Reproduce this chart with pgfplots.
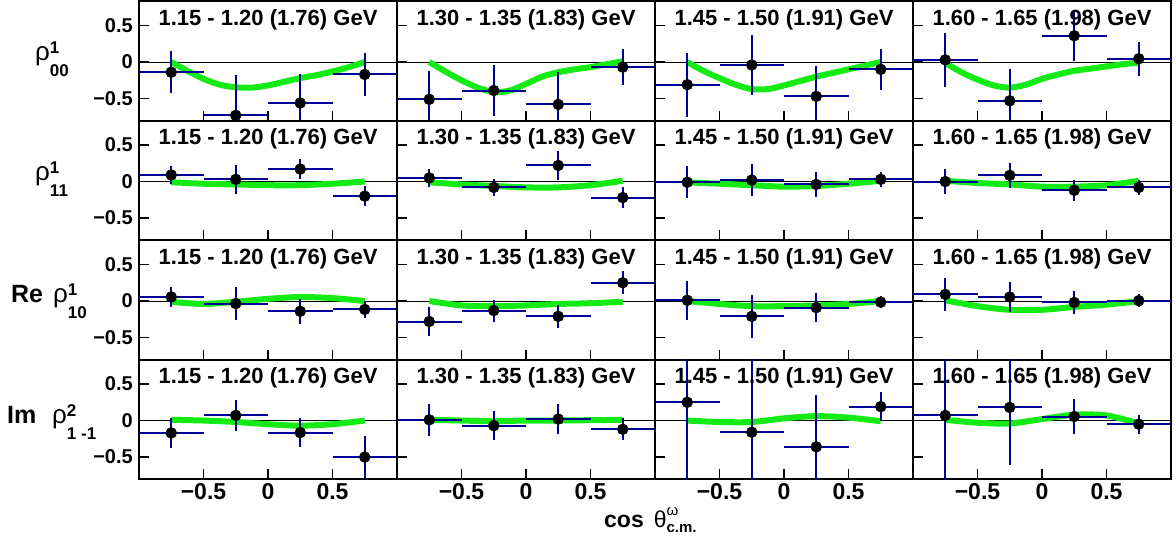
\documentclass[border=0pt]{standalone}
\usepackage{fontspec}
\setmainfont{Liberation Sans}
\usepackage{pgfplots}
\pgfplotsset{compat=1.18}
\definecolor{fitgreen}{RGB}{20,235,20}
\definecolor{errblue}{RGB}{0,0,150}
\newcommand{\titlefont}{\fontsize{22}{22}\selectfont\bfseries}
\newcommand{\rholab}[2]{{\fontsize{26}{26}\selectfont ρ}\makebox[0pt][l]{\raisebox{7pt}{\fontsize{17}{17}\selectfont\bfseries #1}}\raisebox{-16pt}{\fontsize{17}{17}\selectfont\bfseries #2}}
\pgfplotsset{
  panel/.style={
    scale only axis, width=258pt, height=119.5pt,
    anchor=north west,
    xmin=-1, xmax=1, ymin=-0.8, ymax=0.835,
    xtick={-0.5,0,0.5}, ytick={-0.5,0,0.5},
    xticklabels={}, yticklabels={},
    tick align=inside, tick pos=left, major tick length=10pt,
    tick style={black, line width=1.2pt},
    axis line style={black, line width=2pt},
    yticklabel style={font=\fontsize{20}{20}\selectfont\bfseries, inner sep=1pt, xshift=-5pt},
    xticklabel style={font=\fontsize{23}{23}\selectfont\bfseries, yshift=-1pt},
  },
  ylab/.style={yticklabels={−0.5,0,0.5}},
  xlab/.style={xticklabels={−0.5,0,0.5}},
  fit/.style={fitgreen, line width=6pt, smooth, forget plot},
  pts/.style={only marks, mark=*, mark size=5.5pt, mark options={black, fill=black},
    error bars/x dir=both, error bars/x explicit, error bars/y dir=both, error bars/y explicit,
    error bars/error mark=none,
    error bars/error bar style={errblue, line width=2pt}},
  zero/.style={black, line width=1pt, forget plot},
}
\begin{document}
\begin{tikzpicture}
\useasboundingbox (0pt,0pt) rectangle (1176pt,-536pt);

% ===================== Row 1: rho^1_00 =====================
\begin{axis}[panel, ylab, at={(139pt,-1pt)}]
\addplot[zero] coordinates {(-1,0) (1,0)};
\addplot[fit] coordinates {(-0.75,0.0) (-0.625,-0.12) (-0.5,-0.23) (-0.375,-0.31) (-0.25,-0.345) (-0.125,-0.35) (0,-0.32) (0.125,-0.27) (0.25,-0.22) (0.375,-0.18) (0.5,-0.13) (0.625,-0.07) (0.75,0.0)};
\addplot[pts] table[x=x, y=y, x error=ex, y error=ey] {
x y ex ey
-0.75 -0.14 0.25 0.29
-0.25 -0.73 0.25 0.55
0.25 -0.56 0.25 0.40
0.75 -0.17 0.25 0.30
};
\node[anchor=base, inner sep=0, font=\titlefont] at (rel axis cs:0.5,1) [yshift=-24pt] {1.15 - 1.20 (1.76) GeV};
\end{axis}

\begin{axis}[panel, at={(397pt,-1pt)}]
\addplot[zero] coordinates {(-1,0) (1,0)};
\addplot[fit] coordinates {(-0.75,0.0) (-0.625,-0.13) (-0.5,-0.25) (-0.375,-0.35) (-0.25,-0.41) (-0.125,-0.39) (0,-0.30) (0.125,-0.20) (0.25,-0.14) (0.375,-0.10) (0.5,-0.07) (0.625,-0.03) (0.75,0.01)};
\addplot[pts] table[x=x, y=y, x error=ex, y error=ey] {
x y ex ey
-0.75 -0.51 0.25 0.39
-0.25 -0.39 0.25 0.35
0.25 -0.58 0.25 0.45
0.75 -0.07 0.25 0.25
};
\node[anchor=base, inner sep=0, font=\titlefont] at (rel axis cs:0.5,1) [yshift=-24pt] {1.30 - 1.35 (1.83) GeV};
\end{axis}

\begin{axis}[panel, at={(655pt,-1pt)}]
\addplot[zero] coordinates {(-1,0) (1,0)};
\addplot[fit] coordinates {(-0.75,0.0) (-0.625,-0.12) (-0.5,-0.22) (-0.375,-0.31) (-0.25,-0.37) (-0.125,-0.37) (0,-0.32) (0.125,-0.26) (0.25,-0.20) (0.375,-0.15) (0.5,-0.10) (0.625,-0.05) (0.75,0.0)};
\addplot[pts] table[x=x, y=y, x error=ex, y error=ey] {
x y ex ey
-0.75 -0.31 0.25 0.44
-0.25 -0.04 0.25 0.41
0.25 -0.47 0.25 0.42
0.75 -0.10 0.25 0.28
};
\node[anchor=base, inner sep=0, font=\titlefont] at (rel axis cs:0.5,1) [yshift=-24pt] {1.45 - 1.50 (1.91) GeV};
\end{axis}

\begin{axis}[panel, at={(913pt,-1pt)}]
\addplot[zero] coordinates {(-1,0) (1,0)};
\addplot[fit] coordinates {(-0.75,-0.01) (-0.625,-0.14) (-0.5,-0.24) (-0.375,-0.32) (-0.25,-0.35) (-0.125,-0.31) (0,-0.23) (0.125,-0.17) (0.25,-0.12) (0.375,-0.09) (0.5,-0.06) (0.625,-0.03) (0.75,-0.01)};
\addplot[pts] table[x=x, y=y, x error=ex, y error=ey] {
x y ex ey
-0.75 0.03 0.25 0.37
-0.25 -0.53 0.25 0.43
0.25 0.36 0.25 0.35
0.75 0.045 0.25 0.235
};
\node[anchor=base, inner sep=0, font=\titlefont] at (rel axis cs:0.5,1) [yshift=-24pt] {1.60 - 1.65 (1.98) GeV};
\end{axis}

% ===================== Row 2: rho^1_11 =====================
\begin{axis}[panel, ylab, at={(139pt,-120.5pt)}]
\addplot[zero] coordinates {(-1,0) (1,0)};
\addplot[fit] coordinates {(-0.75,-0.01) (-0.5,-0.03) (-0.25,-0.04) (0,-0.05) (0.25,-0.05) (0.5,-0.03) (0.75,0.0)};
\addplot[pts] table[x=x, y=y, x error=ex, y error=ey] {
x y ex ey
-0.75 0.09 0.25 0.12
-0.25 0.03 0.25 0.20
0.25 0.17 0.25 0.14
0.75 -0.20 0.25 0.14
};
\node[anchor=base, inner sep=0, font=\titlefont] at (rel axis cs:0.5,1) [yshift=-24pt] {1.15 - 1.20 (1.76) GeV};
\end{axis}

\begin{axis}[panel, at={(397pt,-120.5pt)}]
\addplot[zero] coordinates {(-1,0) (1,0)};
\addplot[fit] coordinates {(-0.75,-0.01) (-0.5,-0.04) (-0.25,-0.06) (0,-0.08) (0.25,-0.08) (0.5,-0.05) (0.75,0.01)};
\addplot[pts] table[x=x, y=y, x error=ex, y error=ey] {
x y ex ey
-0.75 0.05 0.25 0.12
-0.25 -0.08 0.25 0.12
0.25 0.22 0.25 0.20
0.75 -0.22 0.25 0.14
};
\node[anchor=base, inner sep=0, font=\titlefont] at (rel axis cs:0.5,1) [yshift=-24pt] {1.30 - 1.35 (1.83) GeV};
\end{axis}

\begin{axis}[panel, at={(655pt,-120.5pt)}]
\addplot[zero] coordinates {(-1,0) (1,0)};
\addplot[fit] coordinates {(-0.75,-0.01) (-0.5,-0.03) (-0.25,-0.05) (0,-0.07) (0.25,-0.06) (0.5,-0.03) (0.75,0.01)};
\addplot[pts] table[x=x, y=y, x error=ex, y error=ey] {
x y ex ey
-0.75 -0.01 0.25 0.22
-0.25 0.02 0.25 0.22
0.25 -0.04 0.25 0.17
0.75 0.03 0.25 0.10
};
\node[anchor=base, inner sep=0, font=\titlefont] at (rel axis cs:0.5,1) [yshift=-24pt] {1.45 - 1.50 (1.91) GeV};
\end{axis}

\begin{axis}[panel, at={(913pt,-120.5pt)}]
\addplot[zero] coordinates {(-1,0) (1,0)};
\addplot[fit] coordinates {(-0.75,0.01) (-0.5,-0.02) (-0.25,-0.04) (0,-0.07) (0.25,-0.07) (0.5,-0.05) (0.75,0.01)};
\addplot[pts] table[x=x, y=y, x error=ex, y error=ey] {
x y ex ey
-0.75 0.0 0.25 0.17
-0.25 0.085 0.25 0.17
0.25 -0.12 0.25 0.14
0.75 -0.08 0.25 0.10
};
\node[anchor=base, inner sep=0, font=\titlefont] at (rel axis cs:0.5,1) [yshift=-24pt] {1.60 - 1.65 (1.98) GeV};
\end{axis}

% ===================== Row 3: Re rho^1_10 =====================
\begin{axis}[panel, ylab, at={(139pt,-240pt)}]
\addplot[zero] coordinates {(-1,0) (1,0)};
\addplot[fit] coordinates {(-0.75,-0.01) (-0.5,-0.04) (-0.25,-0.01) (0,0.03) (0.25,0.055) (0.5,0.04) (0.75,0.0)};
\addplot[pts] table[x=x, y=y, x error=ex, y error=ey] {
x y ex ey
-0.75 0.055 0.25 0.14
-0.25 -0.035 0.25 0.23
0.25 -0.14 0.25 0.17
0.75 -0.115 0.25 0.12
};
\node[anchor=base, inner sep=0, font=\titlefont] at (rel axis cs:0.5,1) [yshift=-24pt] {1.15 - 1.20 (1.76) GeV};
\end{axis}

\begin{axis}[panel, at={(397pt,-240pt)}]
\addplot[zero] coordinates {(-1,0) (1,0)};
\addplot[fit] coordinates {(-0.75,0.0) (-0.5,-0.06) (-0.25,-0.07) (0,-0.06) (0.25,-0.04) (0.5,-0.03) (0.75,-0.01)};
\addplot[pts] table[x=x, y=y, x error=ex, y error=ey] {
x y ex ey
-0.75 -0.28 0.25 0.20
-0.25 -0.13 0.25 0.15
0.25 -0.21 0.25 0.16
0.75 0.25 0.25 0.16
};
\node[anchor=base, inner sep=0, font=\titlefont] at (rel axis cs:0.5,1) [yshift=-24pt] {1.30 - 1.35 (1.83) GeV};
\end{axis}

\begin{axis}[panel, at={(655pt,-240pt)}]
\addplot[zero] coordinates {(-1,0) (1,0)};
\addplot[fit] coordinates {(-0.75,0.0) (-0.5,-0.04) (-0.25,-0.07) (0,-0.07) (0.25,-0.06) (0.5,-0.04) (0.75,0.0)};
\addplot[pts] table[x=x, y=y, x error=ex, y error=ey] {
x y ex ey
-0.75 0.01 0.25 0.27
-0.25 -0.21 0.25 0.29
0.25 -0.09 0.25 0.20
0.75 -0.015 0.25 0.08
};
\node[anchor=base, inner sep=0, font=\titlefont] at (rel axis cs:0.5,1) [yshift=-24pt] {1.45 - 1.50 (1.91) GeV};
\end{axis}

\begin{axis}[panel, at={(913pt,-240pt)}]
\addplot[zero] coordinates {(-1,0) (1,0)};
\addplot[fit] coordinates {(-0.75,0.01) (-0.5,-0.07) (-0.25,-0.12) (0,-0.12) (0.25,-0.08) (0.5,-0.05) (0.75,0.0)};
\addplot[pts] table[x=x, y=y, x error=ex, y error=ey] {
x y ex ey
-0.75 0.09 0.25 0.22
-0.25 0.055 0.25 0.21
0.25 -0.02 0.25 0.16
0.75 0.005 0.25 0.09
};
\node[anchor=base, inner sep=0, font=\titlefont] at (rel axis cs:0.5,1) [yshift=-24pt] {1.60 - 1.65 (1.98) GeV};
\end{axis}

% ===================== Row 4: Im rho^2_1-1 =====================
\begin{axis}[panel, ylab, xlab, at={(139pt,-359.5pt)}]
\addplot[zero] coordinates {(-1,0) (1,0)};
\addplot[fit] coordinates {(-0.75,0.01) (-0.5,0.0) (-0.25,-0.02) (0,-0.05) (0.25,-0.07) (0.5,-0.05) (0.75,0.0)};
\addplot[pts] table[x=x, y=y, x error=ex, y error=ey] {
x y ex ey
-0.75 -0.17 0.25 0.21
-0.25 0.07 0.25 0.21
0.25 -0.165 0.25 0.20
0.75 -0.50 0.25 0.29
};
\node[anchor=base, inner sep=0, font=\titlefont] at (rel axis cs:0.5,1) [yshift=-24pt] {1.15 - 1.20 (1.76) GeV};
\end{axis}

\begin{axis}[panel, xlab, at={(397pt,-359.5pt)}]
\addplot[zero] coordinates {(-1,0) (1,0)};
\addplot[fit] coordinates {(-0.75,0.01) (-0.5,0.0) (-0.25,-0.01) (0,0.0) (0.25,0.0) (0.5,0.005) (0.75,0.01)};
\addplot[pts] table[x=x, y=y, x error=ex, y error=ey] {
x y ex ey
-0.75 0.01 0.25 0.22
-0.25 -0.07 0.25 0.20
0.25 0.02 0.25 0.20
0.75 -0.12 0.25 0.15
};
\node[anchor=base, inner sep=0, font=\titlefont] at (rel axis cs:0.5,1) [yshift=-24pt] {1.30 - 1.35 (1.83) GeV};
\end{axis}

\begin{axis}[panel, xlab, at={(655pt,-359.5pt)}]
\addplot[zero] coordinates {(-1,0) (1,0)};
\addplot[fit] coordinates {(-0.75,0.0) (-0.5,-0.02) (-0.25,-0.02) (0,0.03) (0.25,0.06) (0.5,0.04) (0.75,-0.01)};
\addplot[pts] table[x=x, y=y, x error=ex, y error=ey] {
x y ex ey
-0.75 0.25 0.25 1.2
-0.25 -0.16 0.25 1.2
0.25 -0.36 0.25 0.71
0.75 0.19 0.25 0.20
};
\node[anchor=base, inner sep=0, font=\titlefont] at (rel axis cs:0.5,1) [yshift=-24pt] {1.45 - 1.50 (1.91) GeV};
\end{axis}

\begin{axis}[panel, xlab, at={(913pt,-359.5pt)}]
\addplot[zero] coordinates {(-1,0) (1,0)};
\addplot[fit] coordinates {(-0.75,0.01) (-0.5,-0.03) (-0.25,-0.04) (0,0.02) (0.25,0.08) (0.5,0.07) (0.75,-0.04)};
\addplot[pts] table[x=x, y=y, x error=ex, y error=ey] {
x y ex ey
-0.75 0.07 0.25 1.2
-0.25 0.18 0.25 0.79
0.25 0.055 0.25 0.235
0.75 -0.05 0.25 0.13
};
\node[anchor=base, inner sep=0, font=\titlefont] at (rel axis cs:0.5,1) [yshift=-24pt] {1.60 - 1.65 (1.98) GeV};
\end{axis}

% ===================== Row labels =====================
\node[anchor=base west, inner sep=0] at (35pt,-60pt) {\rholab{1}{00}};
\node[anchor=base west, inner sep=0] at (35pt,-180pt) {\rholab{1}{11}};
\node[anchor=base west, inner sep=0, font=\fontsize{25}{25}\selectfont\bfseries] at (11pt,-302pt) {Re};
\node[anchor=base west, inner sep=0] at (53pt,-302pt) {\rholab{1}{10}};
\node[anchor=base west, inner sep=0, font=\fontsize{25}{25}\selectfont\bfseries] at (7pt,-423pt) {Im};
\node[anchor=base west, inner sep=0] at (52pt,-423pt) {\rholab{2}{1 -1}};

% ===================== x-axis label =====================
\node[anchor=base west, inner sep=0] at (604pt,-527pt) {{\fontsize{23}{23}\selectfont\bfseries cos}\hspace{10pt}{\fontsize{23}{23}\selectfont θ}\makebox[0pt][l]{\raisebox{12pt}{\fontsize{15}{15}\selectfont ω}}\raisebox{-5pt}{\fontsize{15}{15}\selectfont\bfseries c.m.}};
\end{tikzpicture}
\end{document}
